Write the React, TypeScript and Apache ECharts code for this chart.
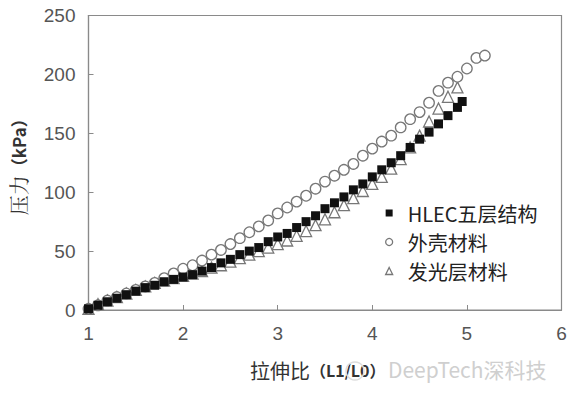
import React, { useEffect, useRef } from "react";
import * as echarts from "echarts";

const xTicks = [1, 2, 3, 4, 5, 6];
const yTicks = [0, 50, 100, 150, 200, 250];

const seriesNames = ["HLEC五层结构", "外壳材料", "发光层材料"];

const hlecX = [1.0, 1.1, 1.2, 1.3, 1.4, 1.5, 1.6, 1.7, 1.8, 1.9, 2.0, 2.1, 2.2, 2.3, 2.4, 2.5, 2.6, 2.7, 2.8, 2.9, 3.0, 3.1, 3.2, 3.3, 3.4, 3.5, 3.6, 3.7, 3.8, 3.9, 4.0, 4.1, 4.2, 4.3, 4.4, 4.5, 4.6, 4.7, 4.8, 4.9, 4.95];
const hlecY = [1, 4, 7, 10, 13, 16, 19, 21, 24, 26, 28, 30, 33, 36, 40, 43, 47, 50, 53, 58, 62, 65, 70, 75, 80, 86, 91, 96, 102, 107, 113, 119, 125, 131, 138, 145, 151, 158, 165, 172, 177];

const shellX = [1.0, 1.1, 1.2, 1.3, 1.4, 1.5, 1.6, 1.7, 1.8, 1.9, 2.0, 2.1, 2.2, 2.3, 2.4, 2.5, 2.6, 2.7, 2.8, 2.9, 3.0, 3.1, 3.2, 3.3, 3.4, 3.5, 3.6, 3.7, 3.8, 3.9, 4.0, 4.1, 4.2, 4.3, 4.4, 4.5, 4.6, 4.7, 4.8, 4.9, 5.0, 5.1, 5.19];
const shellY = [1, 4, 8, 11, 14, 17, 20, 23, 27, 31, 35, 38, 42, 47, 51, 56, 61, 66, 71, 76, 82, 87, 92, 97, 103, 109, 114, 119, 124, 131, 137, 143, 148, 155, 162, 168, 176, 186, 193, 198, 205, 214, 216];

const lumX = [1.0, 1.1, 1.2, 1.3, 1.4, 1.5, 1.6, 1.7, 1.8, 1.9, 2.0, 2.1, 2.2, 2.3, 2.4, 2.5, 2.6, 2.7, 2.8, 2.9, 3.0, 3.1, 3.2, 3.3, 3.4, 3.5, 3.6, 3.7, 3.8, 3.9, 4.0, 4.1, 4.2, 4.3, 4.4, 4.5, 4.6, 4.7, 4.8, 4.9];
const lumY = [1, 5, 8, 11, 14, 17, 20, 23, 25, 27, 29, 31, 33, 36, 38, 41, 44, 47, 50, 53, 56, 59, 63, 67, 72, 77, 83, 89, 95, 101, 107, 113, 120, 128, 138, 148, 160, 171, 181, 189];

const xAxisName = "拉伸比";
const xAxisUnit = "（L1/L0）";
const watermark = "DeepTech深科技";

const zip = (xs: number[], ys: number[]) => xs.map((x, i) => [x, ys[i]]);

export default function App() {
  const ref = useRef<HTMLDivElement>(null);
  useEffect(() => {
    if (!ref.current) return;
    const chart = echarts.init(ref.current, null, { renderer: "svg" });
    const axisColor = "#8a8a8a";
    const labelColor = "#555";
    chart.setOption({
      animation: false,
      backgroundColor: "#fff",
      grid: {
        left: 88.5,
        right: 8.5,
        top: 15.5,
        bottom: 85,
        show: true,
        borderColor: axisColor,
        borderWidth: 1.2,
        backgroundColor: "transparent",
      },
      xAxis: {
        type: "value",
        min: xTicks[0],
        max: xTicks[xTicks.length - 1],
        interval: 1,
        splitLine: { show: false },
        axisLine: { lineStyle: { color: axisColor, width: 1.2 } },
        axisTick: { inside: true, length: 5, lineStyle: { color: axisColor } },
        axisLabel: {
          color: labelColor,
          fontSize: 19,
          fontFamily: "Liberation Sans, Arial, sans-serif",
          margin: 14,
        },
      },
      yAxis: {
        type: "value",
        min: yTicks[0],
        max: yTicks[yTicks.length - 1],
        interval: 50,
        splitLine: { show: false },
        axisLine: { show: true, lineStyle: { color: axisColor, width: 1.2 } },
        axisTick: { show: true, inside: true, length: 5, lineStyle: { color: axisColor } },
        axisLabel: {
          color: labelColor,
          fontSize: 19,
          fontFamily: "Liberation Sans, Arial, sans-serif",
          margin: 13,
        },
        name: "{a|压力}{b|（kPa）}",
        nameLocation: "middle",
        nameGap: 60,
        nameRotate: 90,
        nameTextStyle: {
          rich: {
            a: { fontSize: 20, fontFamily: "Noto Serif CJK SC, Noto Sans CJK SC, serif", color: "#333" },
            b: { fontSize: 17, fontWeight: "bold", fontFamily: "Noto Sans CJK SC, sans-serif", color: "#333" },
          },
        },
      },
      legend: {
        orient: "vertical",
        left: 380,
        top: 198,
        itemGap: 9,
        itemWidth: 7,
        itemHeight: 7,
        textStyle: {
          fontSize: 20,
          color: "#222",
          fontFamily: "Noto Sans CJK SC, sans-serif",
          padding: [0, 0, 0, 10],
        },
        data: [
          { name: seriesNames[0], icon: "rect", itemStyle: { color: "#111", borderWidth: 0 } },
          { name: seriesNames[1], icon: "circle", itemStyle: { color: "#fff", borderColor: "#777", borderWidth: 1.3 } },
          { name: seriesNames[2], icon: "triangle", itemStyle: { color: "#fff", borderColor: "#777", borderWidth: 1.3 } },
        ],
      },
      series: [
        {
          name: seriesNames[2],
          type: "scatter",
          symbol: "triangle",
          symbolSize: 11,
          itemStyle: { color: "#fff", borderColor: "#777", borderWidth: 1.3, opacity: 1 },
          data: zip(lumX, lumY),
          z: 2,
        },
        {
          name: seriesNames[1],
          type: "scatter",
          symbol: "circle",
          symbolSize: 10.5,
          itemStyle: { color: "#fff", borderColor: "#777", borderWidth: 1.3, opacity: 1 },
          data: zip(shellX, shellY),
          z: 2,
        },
        {
          name: seriesNames[0],
          type: "scatter",
          symbol: "rect",
          symbolSize: 9,
          itemStyle: { color: "#111", opacity: 1 },
          data: zip(hlecX, hlecY),
          z: 3,
        },
      ],
      graphic: [
        {
          type: "text",
          x: 250,
          y: 370,
          style: {
            text: `{a|${xAxisName}}{b|${xAxisUnit}}`,
            verticalAlign: "middle",
            rich: {
              a: { fontSize: 20, fontFamily: "Noto Sans CJK SC, sans-serif", fill: "#333" },
              b: { fontSize: 16, fontWeight: "bold", fontFamily: "Noto Sans CJK SC, sans-serif", fill: "#333" },
            },
          },
        },
        {
          type: "circle",
          shape: { cx: 355, cy: 371, r: 9 },
          style: { fill: "none", stroke: "#ddd", lineWidth: 1.5 },
          z: 10,
        },
        {
          type: "text",
          x: 388,
          y: 369,
          style: {
            text: watermark,
            fontSize: 21,
            fill: "#cfcfcf",
            fontFamily: "Noto Sans CJK SC, sans-serif",
            verticalAlign: "middle",
          },
        },
      ],
    });
    return () => chart.dispose();
  }, []);
  return <div ref={ref} style={{ width: 570, height: 395, position: "absolute", left: 0, top: 0 }} />;
}
